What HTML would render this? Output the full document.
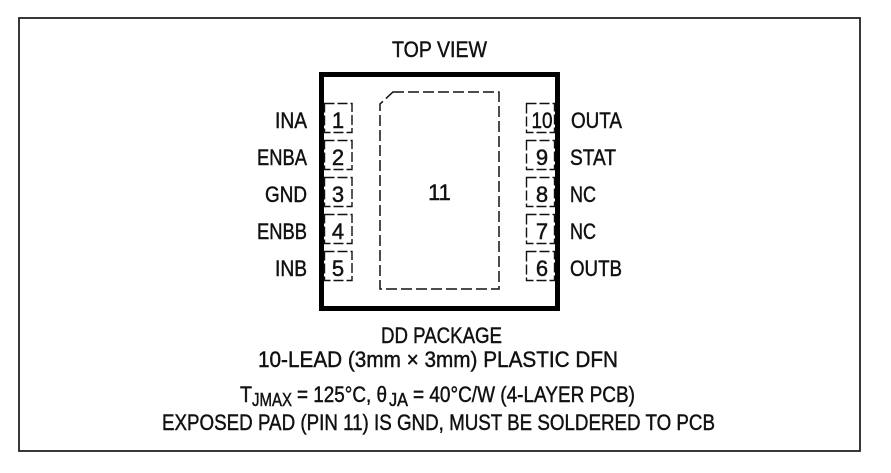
<!DOCTYPE html>
<html><head><meta charset="utf-8"><style>
html,body{margin:0;padding:0;background:#fff;}
svg{display:block;}
text{font-family:"Liberation Sans Narrow","Liberation Sans",sans-serif;fill:#111;stroke:#111;stroke-width:0.45;}
</style></head><body>
<svg width="891" height="473" viewBox="0 0 891 473" xmlns="http://www.w3.org/2000/svg">
<rect x="0" y="0" width="891" height="473" fill="#fff"/>
<rect x="19" y="18" width="841" height="433" fill="none" stroke="#222" stroke-width="1.8"/>

<text x="392" y="57" font-size="22" textLength="95" lengthAdjust="spacingAndGlyphs">TOP VIEW</text>

<!-- package -->
<rect x="321.5" y="74.5" width="236" height="234" fill="none" stroke="#000" stroke-width="5"/>

<!-- exposed pad -->
<path d="M393,92 H499 V289 H380 V104 Z" fill="none" stroke="#111" stroke-width="1.5" stroke-dasharray="11 4"/>
<text x="439.5" y="200" font-size="22" text-anchor="middle">11</text>

<!-- pins -->
<g fill="none" stroke="#111" stroke-width="1.4" stroke-dasharray="10 3">
<rect x="324.5" y="103.5" width="27.5" height="29"/>
<rect x="324.5" y="140.5" width="27.5" height="29"/>
<rect x="324.5" y="177.5" width="27.5" height="29"/>
<rect x="324.5" y="214.5" width="27.5" height="29"/>
<rect x="324.5" y="251.5" width="27.5" height="29"/>
<rect x="526.5" y="103.5" width="28" height="29"/>
<rect x="526.5" y="140.5" width="28" height="29"/>
<rect x="526.5" y="177.5" width="28" height="29"/>
<rect x="526.5" y="214.5" width="28" height="29"/>
<rect x="526.5" y="251.5" width="28" height="29"/>
</g>

<g font-size="22" text-anchor="middle">
<text x="338" y="128">1</text>
<text x="338" y="165">2</text>
<text x="338" y="202">3</text>
<text x="338" y="239">4</text>
<text x="338" y="276">5</text>
<text x="542" y="128" textLength="21" lengthAdjust="spacingAndGlyphs">10</text>
<text x="542" y="165">9</text>
<text x="542" y="202">8</text>
<text x="542" y="239">7</text>
<text x="542" y="276">6</text>
</g>

<g font-size="22">
<text x="275" y="128" textLength="32" lengthAdjust="spacingAndGlyphs">INA</text>
<text x="257" y="165" textLength="50" lengthAdjust="spacingAndGlyphs">ENBA</text>
<text x="265" y="202" textLength="42" lengthAdjust="spacingAndGlyphs">GND</text>
<text x="257" y="239" textLength="50" lengthAdjust="spacingAndGlyphs">ENBB</text>
<text x="275" y="276" textLength="32" lengthAdjust="spacingAndGlyphs">INB</text>

<text x="571" y="128" textLength="51" lengthAdjust="spacingAndGlyphs">OUTA</text>
<text x="570" y="165" textLength="46" lengthAdjust="spacingAndGlyphs">STAT</text>
<text x="570" y="202" textLength="26" lengthAdjust="spacingAndGlyphs">NC</text>
<text x="570" y="239" textLength="26" lengthAdjust="spacingAndGlyphs">NC</text>
<text x="570" y="276" textLength="52" lengthAdjust="spacingAndGlyphs">OUTB</text>
</g>

<g font-size="22">
<text x="381" y="343" textLength="121" lengthAdjust="spacingAndGlyphs">DD PACKAGE</text>
<text x="258" y="367" textLength="360" lengthAdjust="spacingAndGlyphs">10-LEAD (3mm × 3mm) PLASTIC DFN</text>

<text x="240" y="402" textLength="12" lengthAdjust="spacingAndGlyphs">T</text>
<text x="252" y="406" font-size="18" textLength="40" lengthAdjust="spacingAndGlyphs">JMAX</text>
<text x="297" y="402" textLength="90" lengthAdjust="spacingAndGlyphs">= 125°C, θ</text>
<text x="389" y="406" font-size="18" textLength="19" lengthAdjust="spacingAndGlyphs">JA</text>
<text x="413" y="402" textLength="222" lengthAdjust="spacingAndGlyphs">= 40°C/W (4-LAYER PCB)</text>

<text x="162" y="430" textLength="553" lengthAdjust="spacingAndGlyphs">EXPOSED PAD (PIN 11) IS GND, MUST BE SOLDERED TO PCB</text>
</g>
</svg>
</body></html>
